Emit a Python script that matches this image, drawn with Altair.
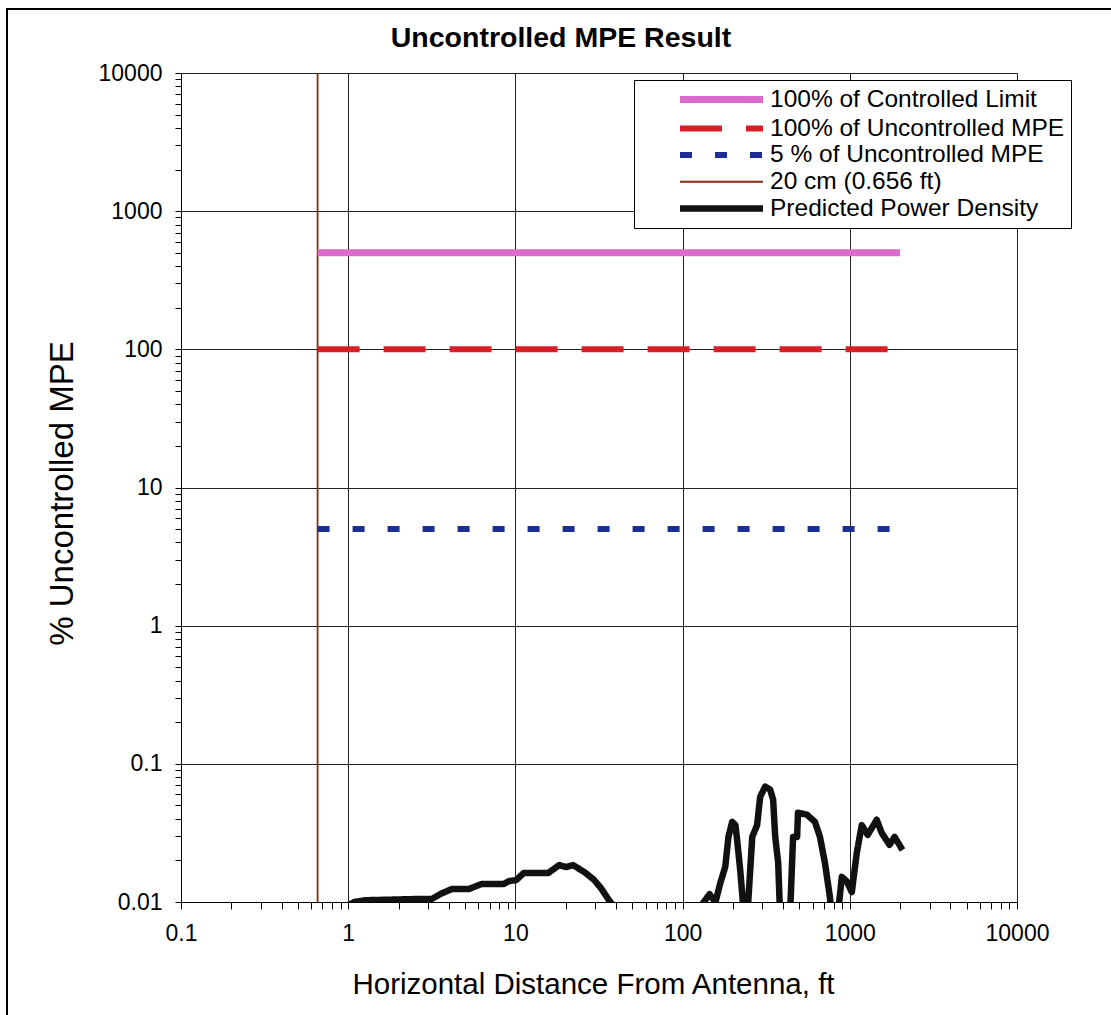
import altair as alt
import pandas as pd

# ---------------- data ----------------
series_names = [
    "100% of Controlled Limit",
    "100% of Uncontrolled MPE",
    "5 % of Uncontrolled MPE",
    "20 cm (0.656 ft)",
    "Predicted Power Density",
]
series_colors = ["#da6acb", "#d81e26", "#1a2e96", "#8b2a12", "#111111"]
series_dash = [[1, 0], [42, 24], [12, 23], [1, 0], [1, 0]]
series_width = [7, 6, 6, 1.8, 6.5]

limit_x = [0.656, 2000]
controlled_y = [500, 500]
uncontrolled_y = [100, 100]
five_pct_y = [5, 5]

cm20_x = [0.656, 0.656]
cm20_y = [0.01, 10000]

pd_x = [1.0, 1.09, 1.26, 1.8, 2.5, 3.16, 3.6, 4.16, 5.25, 6.28, 8.48, 9.21, 10.1,
        11.2, 15.7, 18.3, 20.1, 22.1, 25.8, 29.5, 32.5, 36.3, 38.3, 40.0,
        128, 133, 145, 157, 168, 180, 188, 198, 207, 212, 221, 228, 231,
        244, 261, 279, 291, 312, 334, 348, 358, 373, 383,
        439, 458, 484, 490, 555, 619, 663, 710, 760, 781,
        848, 896, 960, 1028, 1101, 1179, 1280, 1449, 1550, 1729, 1852, 2066]
pd_y = [0.0095, 0.0100, 0.0103, 0.0104, 0.0105, 0.0105, 0.0115, 0.0124, 0.0124, 0.0135, 0.0135, 0.0142, 0.0144,
        0.0162, 0.0162, 0.0185, 0.0179, 0.0185, 0.0165, 0.0145, 0.0126, 0.0103, 0.0095, 0.008,
        0.008, 0.0099, 0.0114, 0.0099, 0.0137, 0.018, 0.0296, 0.038, 0.036, 0.028, 0.0171, 0.0109, 0.008,
        0.008, 0.0296, 0.036, 0.0577, 0.0685, 0.065, 0.055, 0.0296, 0.0192, 0.008,
        0.008, 0.0296, 0.0296, 0.0443, 0.0428, 0.038, 0.0296, 0.0192, 0.0109, 0.008,
        0.008, 0.0152, 0.0141, 0.0118, 0.0227, 0.036, 0.0306, 0.0394, 0.0317, 0.0259, 0.0296, 0.0238]

x_ticks = [round(m * 10 ** e, 6) for e in range(-1, 4) for m in range(1, 10)] + [10000]
y_ticks = [round(m * 10 ** e, 6) for e in range(-2, 4) for m in range(1, 10)] + [10000]

# ---------------- table ----------------
rows = []
def add(name, xs, ys):
    for i, (xv, yv) in enumerate(zip(xs, ys)):
        rows.append({"series": name, "x": xv, "y": yv, "idx": i})

add(series_names[3], cm20_x, cm20_y)
add(series_names[0], limit_x, controlled_y)
add(series_names[1], limit_x, uncontrolled_y)
add(series_names[2], limit_x, five_pct_y)
add(series_names[4], pd_x, pd_y)
df = pd.DataFrame(rows)

FONT = "Liberation Sans"
major = "abs(log(datum.value)/LN10 - round(log(datum.value)/LN10)) < 0.001"
label_expr = f"({major}) ? format(datum.value, '~g') : ''"

legend = alt.Legend(
    title=None,
    orient="none",
    legendX=453,
    legendY=7,
    fillColor="white",
    strokeColor="black",
    padding=6,
    labelFont=FONT,
    labelFontSize=24.5,
    labelColor="black",
    labelLimit=500,
    symbolType="M2.65,0H10.95",
    symbolSize=400,
    labelOffset=103,
    rowPadding=1.5,
    cornerRadius=0,
)

scale_dom = series_names

lines = alt.Chart(df).mark_line(clip=True, strokeCap="butt", strokeJoin="round").encode(
    x=alt.X(
        "x:Q",
        scale=alt.Scale(type="log", domain=[0.1, 10000]),
        axis=alt.Axis(
            values=x_ticks,
            labelExpr=label_expr,
            labelOverlap=False,
            labelFlush=False,
            title="Horizontal Distance From Antenna, ft",
            titleFont=FONT,
            titleFontSize=29.5,
            titleFontWeight="normal",
            titleColor="black",
            titleBaseline="alphabetic",
            titleY=91,
            titleX=412,
            labelFont=FONT,
            labelFontSize=23,
            labelColor="black",
            labelPadding=13,
            tickSize=7,
            tickColor="black",
            domainColor="black",
            gridColor="#222222",
            gridWidth=1,
            gridOpacity={"condition": {"test": major, "value": 1}, "value": 0},
        ),
    ),
    y=alt.Y(
        "y:Q",
        scale=alt.Scale(type="log", domain=[0.01, 10000]),
        axis=alt.Axis(
            values=y_ticks,
            labelExpr=label_expr,
            labelOverlap=False,
            labelFlush=False,
            title="% Uncontrolled MPE",
            titleFont=FONT,
            titleFontSize=33,
            titleFontWeight="normal",
            titleColor="black",
            titleBaseline="alphabetic",
            titleX=-109,
            titleY=420,
            labelFont=FONT,
            labelFontSize=23,
            labelColor="black",
            labelPadding=13,
            tickSize=6,
            tickColor="black",
            domainColor="black",
            gridColor="#222222",
            gridWidth=1,
            gridOpacity={"condition": {"test": major, "value": 1}, "value": 0},
        ),
    ),
    color=alt.Color("series:N", scale=alt.Scale(domain=scale_dom, range=series_colors), legend=legend),
    strokeDash=alt.StrokeDash("series:N", scale=alt.Scale(domain=scale_dom, range=series_dash), legend=legend),
    strokeWidth=alt.StrokeWidth("series:N", scale=alt.Scale(type="ordinal", domain=scale_dom, range=series_width), legend=legend),
    order=alt.Order("idx:Q"),
)

frame = alt.Chart(pd.DataFrame({"a": [0]})).mark_rect(
    fill=None, stroke="black", strokeWidth=2, clip=False
).encode(
    x=alt.value(-174), x2=alt.value(1000), y=alt.value(-64), y2=alt.value(1000)
)

chart = alt.layer(lines, frame).properties(
    width=836,
    height=829,
    padding={"left": 181, "top": 73, "right": 94, "bottom": 113},
    autosize=alt.AutoSizeParams(type="none"),
    title=alt.TitleParams(
        "Uncontrolled MPE Result",
        font=FONT,
        fontSize=28.5,
        fontWeight="bold",
        color="black",
        anchor="middle",
        frame="group",
        dx=-38,
        offset=-67,
        baseline="alphabetic",
    ),
).configure_view(
    fill="#eef1f5", stroke="#555555", strokeWidth=1
).configure(background="white")

chart.save("out.html", embed_options={"renderer": "svg", "actions": False})
